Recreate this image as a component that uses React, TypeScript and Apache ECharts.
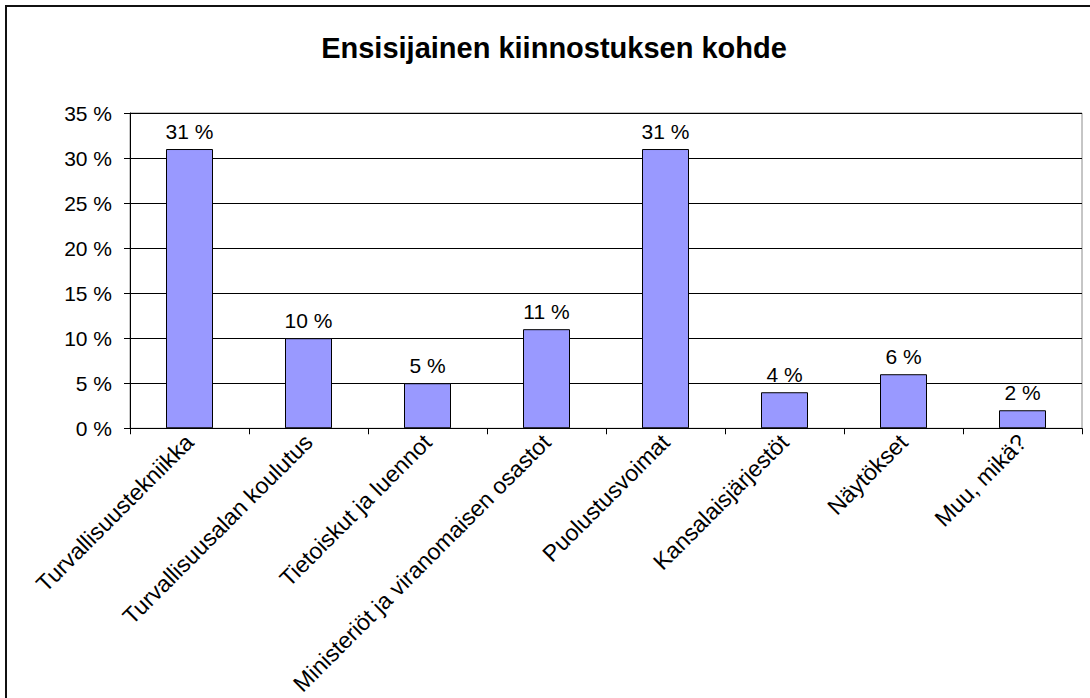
import React, { useEffect, useRef } from "react";
import * as echarts from "echarts";

const categories = [
  "Turvallisuustekniikka",
  "Turvallisuusalan koulutus",
  "Tietoiskut ja luennot",
  "Ministeriöt ja viranomaisen osastot",
  "Puolustusvoimat",
  "Kansalaisjärjestöt",
  "Näytökset",
  "Muu, mikä?",
];
const values = [31, 10, 5, 11, 31, 4, 6, 2];
const titleText = "Ensisijainen kiinnostuksen kohde";

export default function App() {
  const ref = useRef<HTMLDivElement>(null);
  useEffect(() => {
    if (!ref.current) return;
    const chart = echarts.init(ref.current, null, { renderer: "svg" });
    const font = "Arial, 'Liberation Sans', sans-serif";
    chart.setOption({
      animation: false,
      backgroundColor: "#ffffff",
      textStyle: { fontFamily: font },
      graphic: [
        {
          type: "rect",
          shape: { x: 6, y: 6, width: 1200, height: 800 },
          style: { fill: "none", stroke: "#111", lineWidth: 2 },
          silent: true,
          z: 0,
        },
        {
          type: "text",
          x: 554,
          y: 48,
          style: {
            text: titleText,
            fontFamily: font,
            fontSize: 29,
            fontWeight: "bold",
            fill: "#000",
            textAlign: "center",
            textVerticalAlign: "middle",
          },
        },
      ],
      grid: {
        left: 130,
        right: 8,
        top: 113,
        bottom: 269,
        show: true,
        borderColor: "#8c8c8c",
        borderWidth: 1,
        backgroundColor: "transparent",
      },
      xAxis: {
        type: "category",
        data: categories,
        boundaryGap: true,
        axisLine: { show: true, lineStyle: { color: "#000", width: 1 } },
        axisTick: { show: true, alignWithLabel: false, length: 6, lineStyle: { color: "#000" } },
        axisLabel: {
          rotate: 45,
          interval: 0,
          margin: 10,
          fontSize: 23,
          color: "#000",
          fontFamily: font,
        },
        splitLine: { show: false },
      },
      yAxis: {
        type: "value",
        min: 0,
        max: 35,
        interval: 5,
        axisLine: { show: true, lineStyle: { color: "#000", width: 1 } },
        axisTick: { show: true, length: 6, lineStyle: { color: "#000" } },
        axisLabel: {
          formatter: (v: number) => `${v} %`,
          fontSize: 21,
          color: "#000",
          margin: 18,
          fontFamily: font,
        },
        splitLine: { show: true, lineStyle: { color: "#000", width: 1 } },
      },
      series: [
        {
          type: "bar",
          data: values,
          barWidth: 47,
          itemStyle: { color: "#9999FF", borderColor: "#000", borderWidth: 1 },
          label: {
            show: true,
            position: "top",
            distance: 7,
            formatter: (p: any) => `${p.value} %`,
            fontSize: 21,
            color: "#000",
            fontFamily: font,
          },
        },
      ],
    });
    return () => chart.dispose();
  }, []);
  return (
    <div
      ref={ref}
      style={{ position: "fixed", left: 0, top: 0, width: 1090, height: 698 }}
    />
  );
}
